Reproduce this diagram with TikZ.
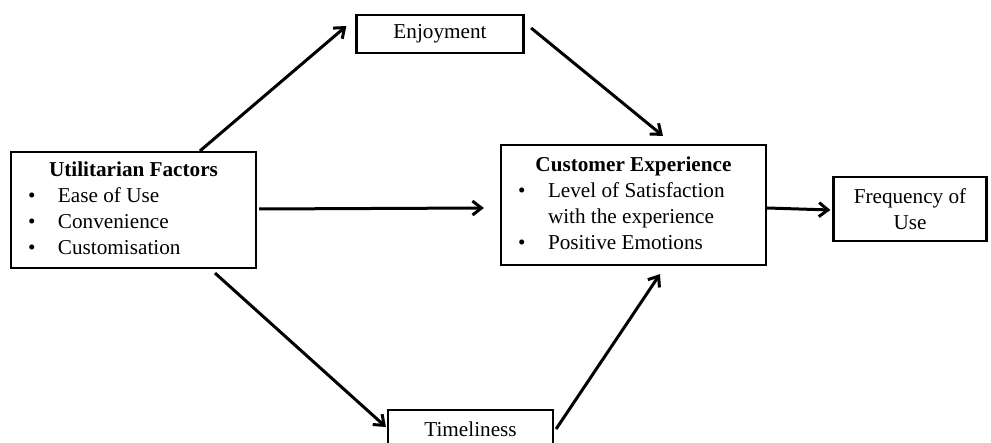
\documentclass[tikz,border=0pt]{standalone}
\usepackage{fontspec}
\setmainfont{Liberation Serif}
\usepackage{tikz}
\usetikzlibrary{arrows.meta,calc,positioning}

\begin{document}
\begin{tikzpicture}
[x=0.5pt,y=-0.5pt,
every node/.style={font=\fontsize{10.6}{13}\selectfont},
factor/.style={draw,line width=1.1pt,inner sep=0pt,align=center},
link/.style={line width=1.5pt,-{Straight Barb[length=4.5pt,width=7pt,line width=1.5pt]}}]
\useasboundingbox (0,0) rectangle (991,443);
% boxes
\node [factor,minimum width=122.5pt,minimum height=58pt] (UF) at (133.5,210)
{\begin{tabular}{@{\hspace{8.5pt}}p{15pt}@{}p{99pt}@{}}
\multicolumn{2}{@{}c@{}}{\textbf{Utilitarian Factors}}\\
\textbullet & Ease of Use\\
\textbullet & Convenience\\
\textbullet & Customisation
\end{tabular}};
\node [factor,minimum width=83.5pt,minimum height=19pt] (EN) at (440,34) {Enjoyment};
\node [factor,minimum width=132.5pt,minimum height=60pt] (CE) at (633.5,205)
{\begin{tabular}{@{\hspace{8.5pt}}p{15pt}@{}p{109pt}@{}}
\multicolumn{2}{@{}c@{}}{\textbf{Customer Experience}}\\
\textbullet & Level of Satisfaction\\
 & with the experience\\
\textbullet & Positive Emotions
\end{tabular}};
\node [factor,minimum width=76.5pt,minimum height=32pt] (FU) at (910,209) {Frequency of\\Use};
\node [factor,minimum width=82.5pt,minimum height=19pt] (TL) at (470.5,429) {Timeliness};
% arrows
\draw [link] ($(UF.north)+(66.5,0)$) -- ($(EN.west)+(-9,-8)$);
\draw [link] ($(EN.east)+(6.5,-6)$) -- ($(CE.north)+(29.5,-8)$);
\draw [link] ($(UF.east)+(2,-1)$) -- ($(CE.west)+(-16,3)$);
\draw [link] ($(UF.south)+(81.5,4)$) -- ($(TL.west)+(-1,-2)$);
\draw [link] ($(TL.east)+(2,0)$) -- ($(CE.south)+(26.5,8)$);
\draw [link] ($(CE.east)+(0,3)$) -- ($(FU.west)+(-2,1)$);
\end{tikzpicture}
\end{document}
